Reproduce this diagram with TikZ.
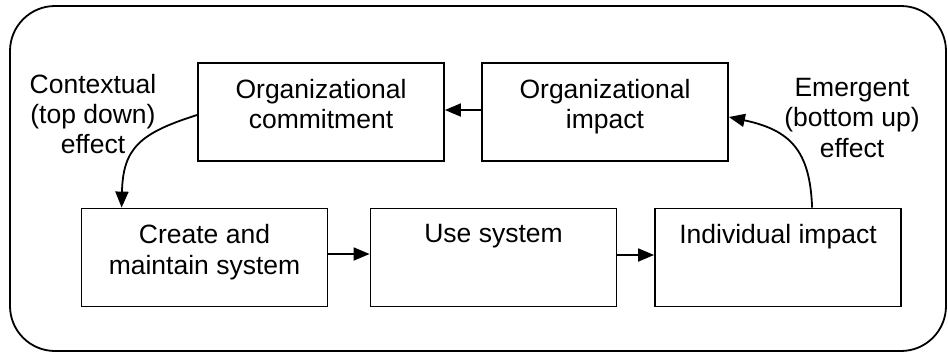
\documentclass[tikz,border=0pt]{standalone}
\usepackage{fontspec}
\setmainfont{Liberation Sans}
\usetikzlibrary{arrows.meta}
\begin{document}
\begin{tikzpicture}[x=1pt,y=1pt,
  every node/.style={font=\fontsize{26.5}{30.3}\selectfont},
  box/.style={draw, line width=1.8pt, minimum width=246pt, minimum height=98pt, inner sep=0pt},
  boxtext/.style={anchor=north, inner sep=0pt, yshift=-16.7pt, align=center},
  flow/.style={line width=1.8pt, -{Triangle[length=16pt,width=13pt]}},
  note/.style={anchor=north, inner sep=0pt, align=center}
]
\useasboundingbox (0,0) rectangle (948,-354);
% outer frame
\draw[line width=1.8pt, rounded corners=45pt] (10,-6) rectangle (946,-351);

% upper row
\node[box, label={[boxtext]north:Organizational\\commitment}] (oc) at (321,-112) {};
\node[box, label={[boxtext]north:Organizational\\impact}] (oi) at (605,-112) {};

% lower row
\node[box, label={[boxtext]north:Create and\\maintain system}] (cm) at (204.5,-257.5) {};
\node[box, label={[boxtext]north:Use system}] (us) at (493.5,-257.5) {};
\node[box, label={[boxtext]north:Individual impact}] (ii) at (778,-257.5) {};

% side notes
\node[note] (ctx) at (93,-73.7) {Contextual\\(top down)\\effect};
\node[note] (emg) at (852,-78) {Emergent\\(bottom up)\\effect};

% straight arrows
\draw[flow] ([yshift=2pt]oi.west) -- ([yshift=2pt]oc.east);
\draw[flow] ([yshift=3.5pt]cm.east) -- ([yshift=3.5pt]us.west);
\draw[flow] ([yshift=2.5pt]us.east) -- ([yshift=2.5pt]ii.west);

% curved effect arrows
\draw[flow] ([yshift=-3pt]oc.west) .. controls (140,-133) and (123,-148) .. ([xshift=41pt]cm.north west);
\draw[flow] ([xshift=158pt]ii.north west) .. controls (810,-150) and (790,-130) .. ([yshift=-5pt]oi.east);
\end{tikzpicture}
\end{document}
